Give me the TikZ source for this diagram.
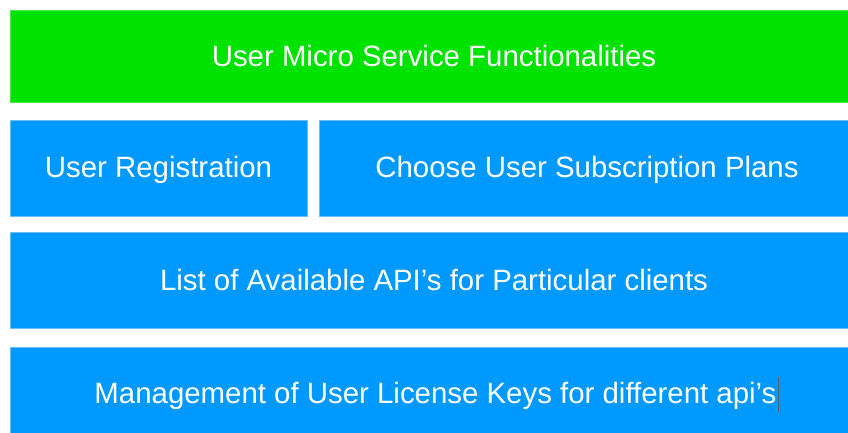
\documentclass[tikz,border=0pt]{standalone}
\usepackage{fontspec}
\setmainfont{Liberation Sans}
\definecolor{headgreen}{RGB}{0,226,0}
\definecolor{tileblue}{RGB}{0,153,255}
\definecolor{tileedge}{RGB}{110,190,255}
\definecolor{caretgray}{RGB}{85,95,110}
\begin{document}
\begin{tikzpicture}[x=1pt,y=-1pt,
  tile/.style={fill=tileblue, draw=tileedge, line width=0.8pt},
  headtile/.style={fill=headgreen, draw=headgreen!70!white, line width=0.8pt},
  label/.style={text=white, font=\fontsize{29.4}{33}\selectfont, inner sep=0pt, anchor=base}]
  \useasboundingbox[fill=white] (0,0) rectangle (848,433);
  \begin{scope}
    \clip (0,0) rectangle (848,433);
    % header band
    \draw[headtile] (10,10) rectangle (860,102);
    \node[label] (head) at (434,67) {User Micro Service Functionalities};
    % second row: two tiles
    \draw[tile] (10,120) rectangle (307,216);
    \node[label] (reg) at (158.5,177) {User Registration};
    \draw[tile] (319,120) rectangle (860,216);
    \node[label] (plans) at (587,177) {Choose User Subscription Plans};
    % third row
    \draw[tile] (10,232) rectangle (860,328);
    \node[label] (apis) at (434,290) {List of Available API’s for Particular clients};
    % fourth row
    \draw[tile] (10,347) rectangle (860,443);
    \node[label] (keys) at (435.5,403) {Management of User License Keys for different api’s};
    % text caret after the last word
    \coordinate (caretY1) at (0,377);
    \coordinate (caretY2) at (0,412);
    \draw[caretgray, line width=1pt] ([xshift=1.5pt]keys.east |- caretY1) -- ([xshift=1.5pt]keys.east |- caretY2);
  \end{scope}
\end{tikzpicture}
\end{document}
